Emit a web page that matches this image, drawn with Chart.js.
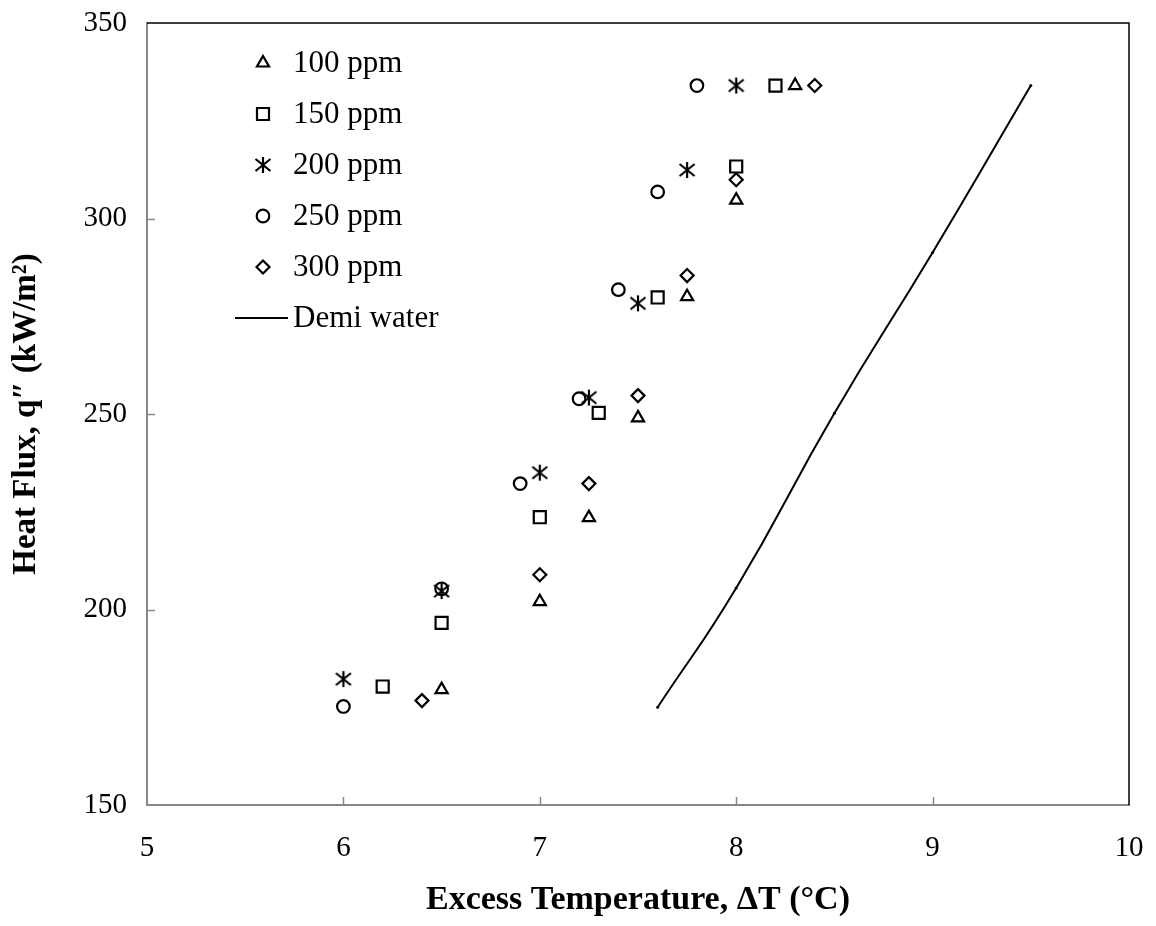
<!DOCTYPE html>
<html>
<head>
<meta charset="utf-8">
<script src="https://cdn.jsdelivr.net/npm/chart.js@4/dist/chart.umd.min.js"></script>
<style>
    html, body { margin: 0; padding: 0; background: #fff; }
    #wrap { width: 1156px; height: 926px; }
</style>
</head>
<body>
<div id="wrap"><canvas id="heat-chart" width="1156" height="926"></canvas></div>
<script>
// excess temperature (°C) and heat flux (kW/m²) per concentration
const ppm100X = [6.5, 7, 7.25, 7.5, 7.75, 8, 8.3];
const ppm100Y = [179.5, 202, 223.5, 249, 280, 304.7, 334];
const ppm150X = [6.2, 6.5, 7, 7.3, 7.6, 8, 8.2];
const ppm150Y = [180.3, 196.6, 223.6, 250.3, 279.8, 313.3, 334];
const ppm200X = [6, 6.5, 7, 7.25, 7.5, 7.75, 8];
const ppm200Y = [182.2, 204.7, 235, 254.2, 278.3, 312.4, 334];
const ppm250X = [6, 6.5, 6.9, 7.2, 7.4, 7.6, 7.8];
const ppm250Y = [175.2, 205.3, 232.2, 253.9, 281.8, 306.8, 334];
const ppm300X = [6.4, 7, 7.25, 7.5, 7.75, 8, 8.4];
const ppm300Y = [176.7, 208.9, 232.2, 254.7, 285.4, 309.9, 334];
const demiX = [7.6, 8, 8.5, 9, 9.5];
const demiY = [175, 205.5, 250.2, 291.3, 334];

const xTicks = [5, 6, 7, 8, 9, 10];
const yTicks = [150, 200, 250, 300, 350];

const toPoints = (xs, ys) => xs.map((x, i) => ({x: x, y: ys[i]}));

// asterisk marker (vertical bar + X)
function makeAsterisk() {
    const c = document.createElement('canvas');
    c.width = 18;
    c.height = 18;
    const g = c.getContext('2d');
    g.strokeStyle = '#000';
    g.lineWidth = 2.2;
    g.beginPath();
    g.moveTo(9, 1); g.lineTo(9, 17);
    g.moveTo(1.5, 3); g.lineTo(16.5, 15);
    g.moveTo(1.5, 15); g.lineTo(16.5, 3);
    g.stroke();
    return c;
}
const asterisk = makeAsterisk();

const serif = 'Liberation Serif';
Chart.defaults.font.family = serif;
Chart.defaults.color = '#000';

function scatterSet(label, xs, ys, style, radius) {
    return {
        label: label,
        data: toPoints(xs, ys),
        showLine: false,
        pointStyle: style,
        pointRadius: radius,
        pointHoverRadius: radius,
        pointBorderWidth: 2.2,
        borderColor: '#000',
        backgroundColor: 'rgba(0,0,0,0)'
    };
}

const datasets = [
    scatterSet('100 ppm', ppm100X, ppm100Y, 'triangle', 7),
    scatterSet('150 ppm', ppm150X, ppm150Y, 'rect', 8.5),
    scatterSet('200 ppm', ppm200X, ppm200Y, asterisk, 8),
    scatterSet('250 ppm', ppm250X, ppm250Y, 'circle', 6.3),
    scatterSet('300 ppm', ppm300X, ppm300Y, 'rectRot', 6.5),
    {
        label: 'Demi water',
        data: toPoints(demiX, demiY),
        showLine: true,
        borderColor: '#000',
        borderWidth: 2,
        tension: 0.5,
        pointStyle: 'circle',
        pointRadius: 1.5,
        pointBackgroundColor: '#000',
        pointBorderWidth: 0,
        backgroundColor: '#000'
    }
];

// frame (top/right black) + inner tick marks + legend inside the plot
const framePlugin = {
    id: 'frame',
    afterDatasetsDraw(chart) {
        const ctx = chart.ctx;
        const a = chart.chartArea;
        const xs = chart.scales.x;
        const ys = chart.scales.y;
        ctx.save();
        ctx.strokeStyle = '#000';
        ctx.lineWidth = 1.5;
        ctx.beginPath();
        ctx.moveTo(a.left, a.top);
        ctx.lineTo(a.right, a.top);
        ctx.lineTo(a.right, a.bottom);
        ctx.stroke();

        ctx.strokeStyle = '#888';
        ctx.lineWidth = 1.5;
        ctx.beginPath();
        xTicks.slice(1, -1).forEach(v => {
            const px = Math.round(xs.getPixelForValue(v)) + 0.5;
            ctx.moveTo(px, a.bottom);
            ctx.lineTo(px, a.bottom - 8);
        });
        yTicks.slice(1, -1).forEach(v => {
            const py = Math.round(ys.getPixelForValue(v)) + 0.5;
            ctx.moveTo(a.left, py);
            ctx.lineTo(a.left + 8, py);
        });
        ctx.stroke();

        // legend
        const markerX = 263;
        const textX = 293;
        const rowY = [63, 114, 165, 216, 267, 318];
        ctx.font = '31px ' + serif;
        ctx.textBaseline = 'middle';
        ctx.textAlign = 'left';
        chart.data.datasets.forEach((ds, i) => {
            const y = rowY[i];
            ctx.strokeStyle = '#000';
            if (ds.showLine) {
                ctx.lineWidth = 2;
                ctx.beginPath();
                ctx.moveTo(235, y);
                ctx.lineTo(288, y);
                ctx.stroke();
            } else {
                ctx.fillStyle = 'rgba(0,0,0,0)';
                ctx.lineWidth = 2.2;
                Chart.helpers.drawPoint(ctx, {
                    pointStyle: ds.pointStyle,
                    radius: ds.pointRadius,
                    borderWidth: 2.2,
                    rotation: 0
                }, markerX, y);
            }
            ctx.fillStyle = '#000';
            ctx.fillText(ds.label, textX, y + 1);
        });
        ctx.restore();
    }
};

// fixed box sizes, no extra padding for overhanging labels
function fixX(scale) {
    scale.height = 121;
    scale.paddingLeft = 0;
    scale.paddingRight = 0;
    scale.paddingTop = 0;
    scale.paddingBottom = 0;
}
function fixY(scale) {
    scale.width = 147;
    scale.paddingLeft = 0;
    scale.paddingRight = 0;
    scale.paddingTop = 0;
    scale.paddingBottom = 0;
}

new Chart(document.getElementById('heat-chart'), {
    type: 'scatter',
    data: {datasets: datasets},
    options: {
        responsive: false,
        animation: false,
        layout: {
            padding: {top: 23, right: 27, left: 0, bottom: 0}
        },
        plugins: {
            legend: {display: false},
            tooltip: {enabled: false}
        },
        scales: {
            x: {
                type: 'linear',
                min: 5,
                max: 10,
                afterFit: fixX,
                afterBuildTicks: scale => { scale.ticks = xTicks.map(v => ({value: v})); },
                grid: {display: false, drawTicks: false},
                border: {display: true, color: '#888', width: 2},
                ticks: {
                    padding: 26,
                    font: {size: 29, family: serif},
                    color: '#000',
                    maxRotation: 0
                },
                title: {
                    display: true,
                    text: 'Excess Temperature, \u0394T (\u00B0C)',
                    font: {size: 34, weight: 'bold', family: serif},
                    color: '#000',
                    padding: {top: 0, bottom: 5}
                }
            },
            y: {
                type: 'linear',
                min: 150,
                max: 350,
                afterFit: fixY,
                afterBuildTicks: scale => { scale.ticks = yTicks.map(v => ({value: v})); },
                grid: {display: false, drawTicks: false},
                border: {display: true, color: '#888', width: 2},
                ticks: {
                    padding: 20,
                    font: {size: 29, family: serif},
                    color: '#000'
                },
                title: {
                    display: true,
                    text: 'Heat Flux, q\u2033 (kW/m\u00B2)',
                    font: {size: 33, weight: 'bold', family: serif},
                    color: '#000',
                    padding: {top: 7, bottom: 0}
                }
            }
        }
    },
    plugins: [framePlugin]
});
</script>
</body>
</html>
